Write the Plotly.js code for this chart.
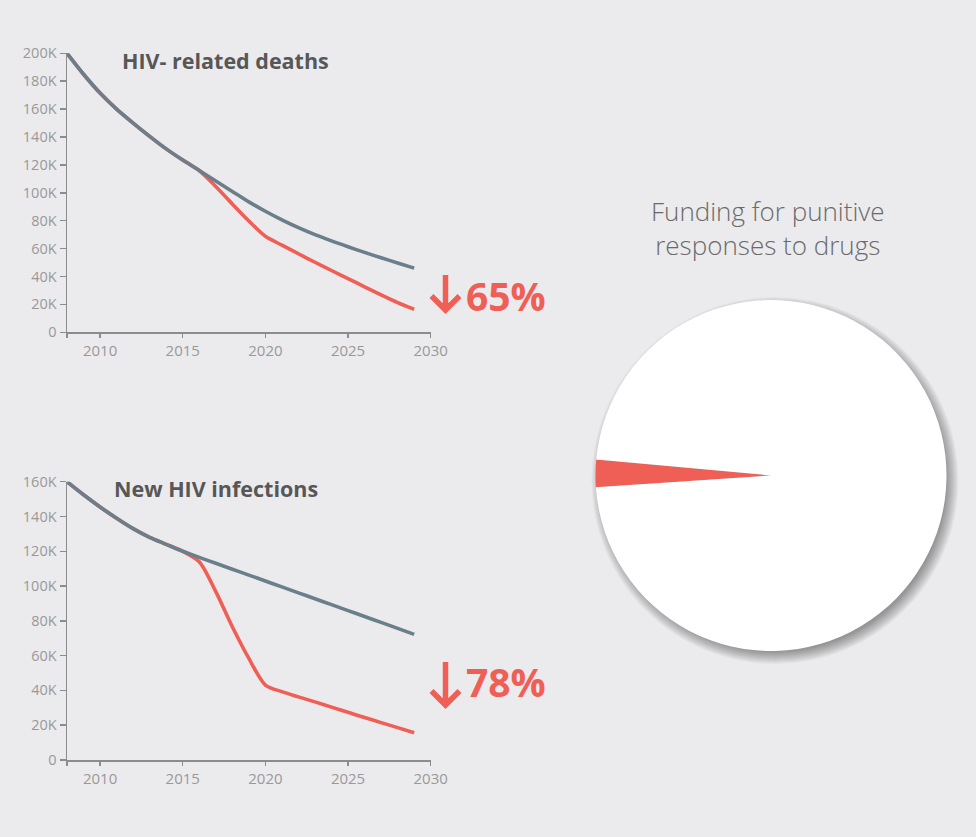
<!DOCTYPE html>
<html><head><meta charset="utf-8">
<script src="https://cdn.plot.ly/plotly-3.0.1.min.js"></script>
<style>html,body{margin:0;padding:0;background:#EBEBED;} #chart{width:976px;height:837px;}</style>
</head><body><div id="chart"></div>
<script>
// ---- data ----
const years = [2008,2009,2010,2011,2012,2013,2014,2015,2016,2017,2018,2019,2020,2021,2022,2023,2024,2025,2026,2027,2028,2029];
const deathsBaseline = [200000,185000,171500,160000,150000,140500,131500,123500,116000,108500,101000,93500,86800,80600,75000,70000,65500,61300,57300,53400,49700,46000];
const deathsTarget   = [200000,185000,171500,160000,150000,140500,131500,123500,116000,104500,92000,79800,68800,62500,56300,50200,44300,38500,32600,26800,21300,16500];
const infBaseline = [160000,152500,145500,139000,133000,128000,124000,120000,116500,113100,109700,106300,102900,99500,96100,92700,89300,85900,82500,79100,75700,72200];
const infTarget   = [160000,152500,145500,139000,133000,128000,124000,120000,114000,96800,76600,58400,43100,39300,36300,33400,30400,27400,24400,21500,18600,15700];
const xTickVals = [2008,2010,2015,2020,2025,2030];
const xTickText = ['','2010','2015','2020','2025','2030'];
const yTickVals1 = [0,20000,40000,60000,80000,100000,120000,140000,160000,180000,200000];
const yTickText1 = ['0','20K','40K','60K','80K','100K','120K','140K','160K','180K','200K'];
const yTickVals2 = [0,20000,40000,60000,80000,100000,120000,140000,160000];
const yTickText2 = ['0','20K','40K','60K','80K','100K','120K','140K','160K'];
const pieLabels = ['Punitive responses share','Other'];
const pieValues = [2.5, 97.5];
const titles = ['HIV- related deaths','New HIV infections'];
const reductions = ['65%','78%'];
const pieTitle = 'Funding for punitive<br>responses to drugs';

// ---- styling ----
const W = 976, H = 837;
const RED = '#EF5F55', GREY = '#6B7F8A', AX = '#8c8c8c', TICK = '#999999';
const px = v => v / W, py = v => 1 - v / H;

const lineTrace = (y, color, xa, ya) => ({
  x: years, y: y, type: 'scatter', mode: 'lines', xaxis: xa, yaxis: ya,
  line: {color: color, width: 3.6, shape: 'spline', smoothing: 0.8},
  hoverinfo: 'skip', showlegend: false
});

const pieCx = 771, pieCy = 475.5, pieR = 175.5;
const traces = [
  lineTrace(deathsTarget, RED, 'x', 'y'),
  lineTrace(deathsBaseline, GREY, 'x', 'y'),
  lineTrace(infTarget, RED, 'x2', 'y2'),
  lineTrace(infBaseline, GREY, 'x2', 'y2'),
  {
    type: 'pie', labels: pieLabels, values: pieValues, sort: false,
    direction: 'clockwise', rotation: 266.2, textinfo: 'none', hoverinfo: 'skip',
    marker: {colors: [RED, '#FFFFFF'], line: {width: 0}}, showlegend: false,
    domain: {x: [px(pieCx - pieR), px(pieCx + pieR)], y: [py(pieCy + pieR), py(pieCy - pieR)]}
  }
];

const axisX = (dom, anchor) => ({
  domain: dom, range: [2008, 2030], anchor: anchor,
  tickvals: xTickVals, ticktext: xTickText, ticks: 'outside', ticklen: 4, tickwidth: 1.5, tickcolor: AX,
  showline: true, linecolor: AX, linewidth: 1.5, showgrid: false, zeroline: false,
  tickfont: {size: 15, color: TICK, family: 'Open Sans'}, fixedrange: true
});
const axisY = (dom, anchor, top, tv, tt) => ({
  domain: dom, range: [0, top], anchor: anchor,
  tickvals: tv, ticktext: tt, ticks: 'outside', ticklen: 6, tickwidth: 1.5, tickcolor: AX,
  showline: true, linecolor: AX, linewidth: 1.5, showgrid: false, zeroline: false,
  tickfont: {size: 14.5, color: TICK, family: 'Open Sans'}, fixedrange: true
});

// soft drop shadow under the pie
const shapes = [];
for (let k = 0; k < 13; k++) {
  const r = pieR - 4 + k, cx = pieCx + 4, cy = pieCy + 5;
  shapes.push({type: 'circle', xref: 'paper', yref: 'paper', layer: 'below',
    x0: px(cx - r), x1: px(cx + r), y0: py(cy + r), y1: py(cy - r),
    fillcolor: 'rgba(0,0,0,0.032)', line: {width: 0}});
}
// down arrows
const arrow = (xc, tipY, len) => ({
  type: 'path', xref: 'paper', yref: 'paper', xsizemode: 'pixel', ysizemode: 'pixel',
  xanchor: px(xc), yanchor: py(tipY),
  path: `M0,${len} L0,1 M-14,15 L0,1 L14,15`,
  line: {color: RED, width: 5.5}
});
shapes.push(arrow(445.5, 311, 36));
shapes.push(arrow(445.5, 706, 44));

const ann = (text, x, y, size, color, weight, xanchor, family) => ({
  text: text, xref: 'paper', yref: 'paper', x: px(x), y: py(y), xanchor: xanchor, yanchor: 'middle',
  showarrow: false, font: {size: size, color: color, weight: weight, family: family || 'Open Sans'}
});

const layout = {
  width: W, height: H, margin: {l: 0, r: 0, t: 0, b: 0},
  paper_bgcolor: '#EBEBED', plot_bgcolor: 'rgba(0,0,0,0)',
  font: {family: 'Open Sans', color: TICK},
  showlegend: false,
  xaxis: axisX([px(67), px(430.7)], 'y'),
  yaxis: axisY([py(332.3), py(53.3)], 'x', 200000, yTickVals1, yTickText1),
  xaxis2: axisX([px(67), px(430.7)], 'y2'),
  yaxis2: axisY([py(760), py(481.7)], 'x2', 160000, yTickVals2, yTickText2),
  shapes: shapes,
  annotations: [
    ann(titles[0], 120, 60, 21.5, '#575757', 700, 'left'),
    ann(titles[1], 112, 489, 21.5, '#575757', 700, 'left'),
    ann(reductions[0], 464, 295, 39, RED, 700, 'left'),
    ann(reductions[1], 464, 681, 39, RED, 700, 'left'),
    ann(pieTitle, 768, 228, 26, '#6a6a6a', 300, 'center')
  ]
};

Plotly.newPlot('chart', traces, layout, {displayModeBar: false, staticPlot: true});
</script></body></html>
